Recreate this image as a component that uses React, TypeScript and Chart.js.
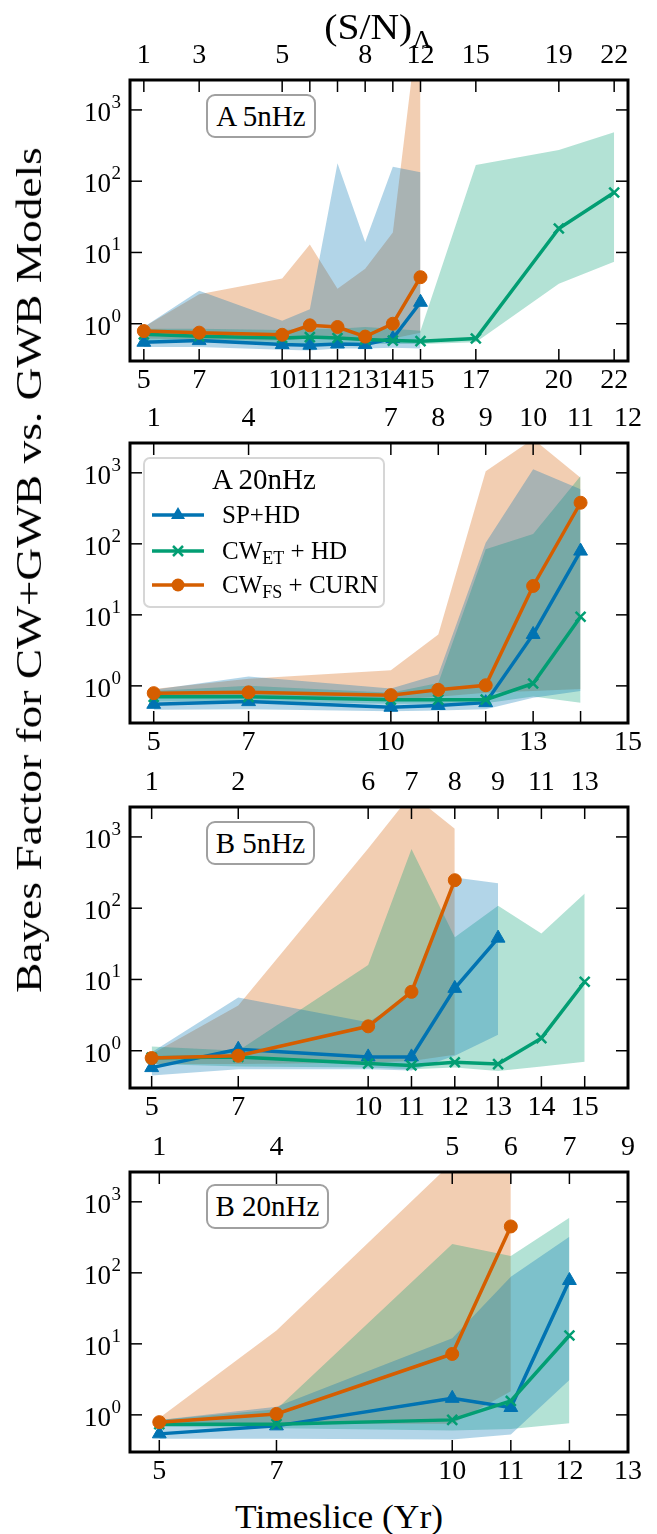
import React, { useEffect, useRef } from 'react';
import { Chart, registerables } from 'chart.js';

Chart.register(...registerables);

const SERIF = '"Liberation Serif", "Times New Roman", serif';
const BLUE = '#0173B2';
const GREEN = '#029E73';
const ORANGE = '#D55E00';
const BLUE_FILL = 'rgba(1,115,178,0.3)';
const GREEN_FILL = 'rgba(2,158,115,0.3)';
const ORANGE_FILL = 'rgba(213,94,0,0.3)';

// ---------- y axis (shared) ----------
const Y_MIN = 0.3;
const Y_MAX = 2630;
const Y_TICKS = [1, 10, 100, 1000];
const Y_TICK_EXPONENTS = ['0', '1', '2', '3'];

// ---------- Panel A 5nHz ----------
const aTicks = [5, 7, 10, 11, 12, 13, 14, 15, 17, 20, 22];
const aBottomLabels = ['5', '7', '10', '11', '12', '13', '14', '15', '17', '20', '22'];
const aTopLabels = ['1', '3', '5', '', '', '8', '', '12', '15', '19', '22'];
const aSpX = [5, 7, 10, 11, 12, 13, 14, 15];
const aSpBf = [0.55, 0.58, 0.51, 0.5, 0.52, 0.51, 0.62, 2.0];
const aSpLo = [0.47, 0.47, 0.43, 0.42, 0.45, 0.45, 0.46, 0.45];
const aSpHi = [0.9, 2.9, 1.1, 1.6, 178, 14, 160, 134];
const aEtX = [5, 7, 10, 11, 12, 13, 14, 15, 17, 20, 22];
const aEtBf = [0.71, 0.67, 0.63, 0.65, 0.63, 0.6, 0.58, 0.57, 0.62, 21.7, 69.5];
const aEtLo = [0.56, 0.55, 0.53, 0.52, 0.52, 0.52, 0.52, 0.52, 0.55, 3.65, 7.4];
const aEtHi = [0.85, 0.85, 0.82, 0.85, 0.85, 0.9, 0.85, 0.8, 169, 275, 486];
const aFsX = [5, 7, 10, 11, 12, 13, 14, 15];
const aFsBf = [0.79, 0.75, 0.7, 0.95, 0.9, 0.66, 1.0, 4.5];
const aFsLo = [0.62, 0.6, 0.58, 0.62, 0.62, 0.56, 0.62, 0.75];
const aFsHi = [0.9, 2.6, 4.3, 12.9, 3.1, 5.9, 19, 30000];

// ---------- Panel A 20nHz ----------
const bTicks = [5, 7, 10, 11, 12, 13, 14, 15];
const bBottomLabels = ['5', '7', '10', '', '', '13', '', '15'];
const bTopLabels = ['1', '4', '7', '8', '9', '10', '11', '12'];
const bX = [5, 7, 10, 11, 12, 13, 14];
const bSpBf = [0.55, 0.6, 0.5, 0.53, 0.58, 5.3, 79];
const bSpLo = [0.46, 0.47, 0.44, 0.45, 0.47, 0.68, 0.85];
const bSpHi = [0.88, 1.35, 0.92, 1.45, 104, 1120, 586];
const bEtBf = [0.7, 0.7, 0.64, 0.64, 0.64, 1.08, 9.4];
const bEtLo = [0.6, 0.6, 0.56, 0.56, 0.57, 0.71, 0.58];
const bEtHi = [0.85, 1.0, 0.8, 1.1, 84, 138, 900];
const bFsBf = [0.79, 0.81, 0.74, 0.88, 1.02, 25.5, 379];
const bFsLo = [0.68, 0.7, 0.64, 0.7, 0.8, 0.85, 0.9];
const bFsHi = [0.9, 1.26, 1.66, 5.3, 1050, 3000, 850];

// ---------- Panel B 5nHz ----------
const cTicks = [5, 7, 10, 11, 12, 13, 14, 15];
const cBottomLabels = ['5', '7', '10', '11', '12', '13', '14', '15'];
const cTopLabels = ['1', '2', '6', '7', '8', '9', '11', '13'];
const cSpX = [5, 7, 10, 11, 12, 13];
const cSpBf = [0.58, 1.05, 0.82, 0.82, 7.5, 38];
const cSpLo = [0.45, 0.55, 0.55, 0.53, 0.85, 1.67];
const cSpHi = [0.95, 5.6, 2.5, 6, 270, 224];
const cEtX = [5, 7, 10, 11, 12, 13, 14, 15];
const cEtBf = [0.8, 0.82, 0.66, 0.62, 0.69, 0.65, 1.5, 9.3];
const cEtLo = [0.65, 0.6, 0.58, 0.55, 0.58, 0.52, 0.6, 0.7];
const cEtHi = [1.15, 1.0, 16, 675, 39, 108, 44, 161];
const cFsX = [5, 7, 10, 11, 12];
const cFsBf = [0.79, 0.85, 2.2, 6.7, 247];
const cFsLo = [0.65, 0.65, 0.68, 0.72, 0.88];
const cFsHi = [0.9, 4.3, 690, 4000, 1300];

// ---------- Panel B 20nHz ----------
const dTicks = [5, 7, 10, 11, 12, 13];
const dBottomLabels = ['5', '7', '10', '11', '12', '13'];
const dTopLabels = ['1', '4', '5', '6', '7', '9'];
const dSpX = [5, 7, 10, 11, 12];
const dSpBf = [0.54, 0.7, 1.71, 1.27, 78];
const dSpLo = [0.46, 0.46, 0.45, 0.53, 3.1];
const dSpHi = [0.85, 1.3, 12, 88, 322];
const dEtX = [5, 7, 10, 11, 12];
const dEtBf = [0.74, 0.74, 0.85, 1.57, 13.1];
const dEtLo = [0.68, 0.65, 0.6, 0.63, 0.76];
const dEtHi = [0.85, 1.2, 254, 173, 596];
const dFsX = [5, 7, 10, 11];
const dFsBf = [0.79, 1.03, 7.2, 450];
const dFsLo = [0.72, 0.75, 0.75, 2.15];
const dFsHi = [0.9, 15.4, 3600, 5000];

type Series = { x: number[]; bf: number[]; lo: number[]; hi: number[] };
type Panel = {
  key: string;
  boxTop: number;
  topH: number;
  plotH: number;
  botH: number;
  xMax: number;
  ticks: number[];
  bottomLabels: string[];
  topLabels: string[];
  sp: Series;
  et: Series;
  fs: Series;
};

const PANELS: Panel[] = [
  {
    key: 'A5', boxTop: 80, topH: 45, plotH: 281, botH: 40, xMax: 22.5,
    ticks: aTicks, bottomLabels: aBottomLabels, topLabels: aTopLabels,
    sp: { x: aSpX, bf: aSpBf, lo: aSpLo, hi: aSpHi },
    et: { x: aEtX, bf: aEtBf, lo: aEtLo, hi: aEtHi },
    fs: { x: aFsX, bf: aFsBf, lo: aFsLo, hi: aFsHi },
  },
  {
    key: 'A20', boxTop: 443, topH: 43, plotH: 280, botH: 38, xMax: 15,
    ticks: bTicks, bottomLabels: bBottomLabels, topLabels: bTopLabels,
    sp: { x: bX, bf: bSpBf, lo: bSpLo, hi: bSpHi },
    et: { x: bX, bf: bEtBf, lo: bEtLo, hi: bEtHi },
    fs: { x: bX, bf: bFsBf, lo: bFsLo, hi: bFsHi },
  },
  {
    key: 'B5', boxTop: 807, topH: 45, plotH: 281, botH: 38, xMax: 16,
    ticks: cTicks, bottomLabels: cBottomLabels, topLabels: cTopLabels,
    sp: { x: cSpX, bf: cSpBf, lo: cSpLo, hi: cSpHi },
    et: { x: cEtX, bf: cEtBf, lo: cEtLo, hi: cEtHi },
    fs: { x: cFsX, bf: cFsBf, lo: cFsLo, hi: cFsHi },
  },
  {
    key: 'B20', boxTop: 1172, topH: 46, plotH: 280, botH: 40, xMax: 13,
    ticks: dTicks, bottomLabels: dBottomLabels, topLabels: dTopLabels,
    sp: { x: dSpX, bf: dSpBf, lo: dSpLo, hi: dSpHi },
    et: { x: dEtX, bf: dEtBf, lo: dEtLo, hi: dEtHi },
    fs: { x: dFsX, bf: dFsBf, lo: dFsLo, hi: dFsHi },
  },
];

const W = 657;
const AREA_LEFT = 130;
const AREA_RIGHT = 628;
const TICK_FONT = { family: SERIF, size: 28 };

const pts = (xs: number[], ys: number[]) => xs.map((x, i) => ({ x, y: ys[i] }));
const labelAt = (vals: number[], labels: string[]) => (v: any) => {
  const i = vals.indexOf(Number(v));
  return i >= 0 ? labels[i] : '';
};

const framePlugin = {
  id: 'frame',
  afterDatasetsDraw(chart: any, _args: any, opts: any) {
    const { ctx, chartArea: a, scales } = chart;
    ctx.save();
    ctx.strokeStyle = '#000';
    ctx.lineWidth = 1.5;
    const tl = 12;
    const line = (x1: number, y1: number, x2: number, y2: number) => {
      ctx.beginPath();
      ctx.moveTo(x1, y1);
      ctx.lineTo(x2, y2);
      ctx.stroke();
    };
    for (const v of opts.xTicks as number[]) {
      const px = scales.x.getPixelForValue(v);
      line(px, a.bottom, px, a.bottom - tl);
      line(px, a.top, px, a.top + tl);
    }
    for (const v of Y_TICKS) {
      const py = scales.y.getPixelForValue(v);
      line(a.left, py, a.left + tl, py);
      line(a.right, py, a.right - tl, py);
    }
    ctx.lineWidth = 3;
    ctx.strokeRect(a.left, a.top, a.right - a.left, a.bottom - a.top);
    ctx.restore();
  },
  afterDraw(chart: any) {
    // y tick labels of the form 10^n
    const { ctx, scales, chartArea: a } = chart;
    ctx.save();
    ctx.fillStyle = '#000';
    ctx.textAlign = 'right';
    ctx.textBaseline = 'alphabetic';
    const right = a.left - 9;
    Y_TICKS.forEach((v, i) => {
      const py = scales.y.getPixelForValue(v);
      const exp = Y_TICK_EXPONENTS[i];
      ctx.font = `19px ${SERIF}`;
      const ew = ctx.measureText(exp).width;
      ctx.fillText(exp, right, py - 2);
      ctx.font = `27px ${SERIF}`;
      ctx.fillText('10', right - ew - 0.5, py + 11);
    });
    ctx.restore();
  },
};

function bandSets(s: Series, fill: string) {
  return [
    {
      data: pts(s.x, s.hi), fill: '+1', backgroundColor: fill, borderWidth: 0,
      pointRadius: 0, order: 10,
    },
    {
      data: pts(s.x, s.lo), fill: false, backgroundColor: fill, borderWidth: 0,
      pointRadius: 0, order: 10,
    },
  ];
}

function makeConfig(p: Panel): any {
  const tickCfg = (labels: string[], padding: number) => ({
    autoSkip: false, maxRotation: 0, minRotation: 0, padding, font: TICK_FONT, color: '#000',
    callback: labelAt(p.ticks, labels),
  });
  const setTicks = (s: any) => { s.ticks = p.ticks.map((v) => ({ value: v })); };
  return {
    type: 'line',
    data: {
      datasets: [
        ...bandSets(p.sp, BLUE_FILL),
        ...bandSets(p.et, GREEN_FILL),
        ...bandSets(p.fs, ORANGE_FILL),
        {
          data: pts(p.sp.x, p.sp.bf), borderColor: BLUE, backgroundColor: BLUE, borderWidth: 3.5,
          pointStyle: 'triangle', pointRadius: 8, pointBorderWidth: 1, fill: false, order: 3,
        },
        {
          data: pts(p.et.x, p.et.bf), borderColor: GREEN, backgroundColor: GREEN, borderWidth: 3.5,
          pointStyle: 'crossRot', pointRadius: 7, pointBorderWidth: 2.5, fill: false, order: 2,
        },
        {
          data: pts(p.fs.x, p.fs.bf), borderColor: ORANGE, backgroundColor: ORANGE, borderWidth: 3.5,
          pointStyle: 'circle', pointRadius: 6.5, pointBorderWidth: 1, fill: false, order: 1,
        },
      ],
    },
    options: {
      animation: false,
      responsive: false,
      devicePixelRatio: 1,
      events: [],
      layout: { padding: { left: 0, right: W - AREA_RIGHT, top: 0, bottom: 0 } },
      plugins: { legend: { display: false }, tooltip: { enabled: false }, frame: { xTicks: p.ticks } },
      elements: { line: { tension: 0 } },
      scales: {
        x: {
          type: 'linear', position: 'bottom', min: 4.5, max: p.xMax,
          afterBuildTicks: setTicks,
          afterFit: (s: any) => { s.height = p.botH; },
          ticks: tickCfg(p.bottomLabels, 3),
          grid: { display: false, drawTicks: false }, border: { display: false },
        },
        x2: {
          type: 'linear', axis: 'x', position: 'top', min: 4.5, max: p.xMax,
          afterBuildTicks: setTicks,
          afterFit: (s: any) => { s.height = p.topH; },
          ticks: tickCfg(p.topLabels, 8),
          grid: { display: false, drawTicks: false }, border: { display: false },
        },
        y: {
          type: 'logarithmic', position: 'left', min: Y_MIN, max: Y_MAX,
          afterBuildTicks: (s: any) => { s.ticks = Y_TICKS.map((v) => ({ value: v })); },
          afterFit: (s: any) => { s.width = AREA_LEFT; },
          ticks: { display: false },
          grid: { display: false, drawTicks: false }, border: { display: false },
        },
      },
    },
    plugins: [framePlugin],
  };
}

function PanelChart({ panel }: { panel: Panel }) {
  const ref = useRef<HTMLCanvasElement>(null);
  const H = panel.topH + panel.plotH + panel.botH;
  useEffect(() => {
    const canvas = ref.current;
    if (!canvas) return;
    const chart = new Chart(canvas, makeConfig(panel));
    return () => chart.destroy();
  }, [panel]);
  return (
    <canvas
      ref={ref}
      width={W}
      height={H}
      style={{ position: 'absolute', left: 0, top: panel.boxTop - panel.topH, width: W, height: H }}
    />
  );
}

const centered = (x: number, y: number, extra: React.CSSProperties = {}, transform = ''): React.CSSProperties => ({
  position: 'absolute', left: x, top: y, whiteSpace: 'nowrap',
  transform: `translate(-50%, -50%)${transform}`, fontFamily: SERIF, color: '#000', lineHeight: 1,
  ...extra,
});

function BoxLabel({ left, top, width, height, text }: { left: number; top: number; width: number; height: number; text: string }) {
  return (
    <div
      style={{
        position: 'absolute', left, top, width, height, boxSizing: 'border-box',
        border: '2px solid #a0a0a0', borderRadius: 9, background: '#fff',
        fontFamily: SERIF, fontSize: 29, lineHeight: `${height - 4}px`, textAlign: 'center', color: '#000',
      }}
    >
      {text}
    </div>
  );
}

function Handle({ color, marker }: { color: string; marker: 'tri' | 'x' | 'o' }) {
  return (
    <svg width={54} height={22} style={{ position: 'absolute', left: 6, top: -11 }}>
      <line x1={1} y1={11} x2={53} y2={11} stroke={color} strokeWidth={3.5} />
      {marker === 'tri' && <polygon points="27,3 34,15 20,15" fill={color} />}
      {marker === 'x' && (
        <g stroke={color} strokeWidth={2.5}>
          <line x1={22} y1={6} x2={32} y2={16} />
          <line x1={22} y1={16} x2={32} y2={6} />
        </g>
      )}
      {marker === 'o' && <circle cx={27} cy={11} r={6.5} fill={color} />}
    </svg>
  );
}

const SUB: React.CSSProperties = { fontSize: '0.72em', verticalAlign: '-0.28em', lineHeight: 0 };

function Legend() {
  const row = (y: number, content: React.ReactNode, color: string, marker: 'tri' | 'x' | 'o') => (
    <div style={{ position: 'absolute', left: 0, top: y, width: '100%', height: 0 }}>
      <Handle color={color} marker={marker} />
      <div style={{ position: 'absolute', left: 77, top: -13, fontSize: 25, lineHeight: '26px', whiteSpace: 'nowrap' }}>
        {content}
      </div>
    </div>
  );
  return (
    <div
      style={{
        position: 'absolute', left: 143, top: 457, width: 242, height: 151, boxSizing: 'border-box',
        border: '2px solid #d6d6d6', borderRadius: 7, background: 'rgba(255,255,255,0.8)',
        fontFamily: SERIF, color: '#000',
      }}
    >
      <div style={{ position: 'absolute', left: 0, width: '100%', top: 4, height: 32, lineHeight: '32px', fontSize: 29, textAlign: 'center' }}>
        A 20nHz
      </div>
      {row(56, <span>SP+HD</span>, BLUE, 'tri')}
      {row(92, <span>CW<sub style={SUB}>ET</sub> + HD</span>, GREEN, 'x')}
      {row(126, <span>CW<sub style={SUB}>FS</sub> + CURN</span>, ORANGE, 'o')}
    </div>
  );
}

export default function App() {
  return (
    <div style={{ position: 'absolute', left: 0, top: 0, width: W, height: 1534, overflow: 'hidden', background: '#fff' }}>
      {PANELS.map((p) => (
        <PanelChart key={p.key} panel={p} />
      ))}
      <div style={centered(378, 27, { fontSize: 36 }, ' scaleX(1.1)')}>
        (S/N)<sub style={{ fontSize: '0.68em', verticalAlign: '-0.35em', lineHeight: 0 }}>Λ</sub>
      </div>
      <div style={centered(339, 1517, { fontSize: 34 }, ' scaleX(1.04)')}>Timeslice (Yr)</div>
      <div style={centered(29, 570, { fontSize: 36 }, ' rotate(-90deg) scaleX(1.26)')}>
        Bayes Factor for CW+GWB vs. GWB Models
      </div>
      <BoxLabel left={206} top={94} width={110} height={44} text="A 5nHz" />
      <BoxLabel left={206} top={821} width={109} height={44} text="B 5nHz" />
      <BoxLabel left={206} top={1184} width={123} height={45} text="B 20nHz" />
      <Legend />
    </div>
  );
}
